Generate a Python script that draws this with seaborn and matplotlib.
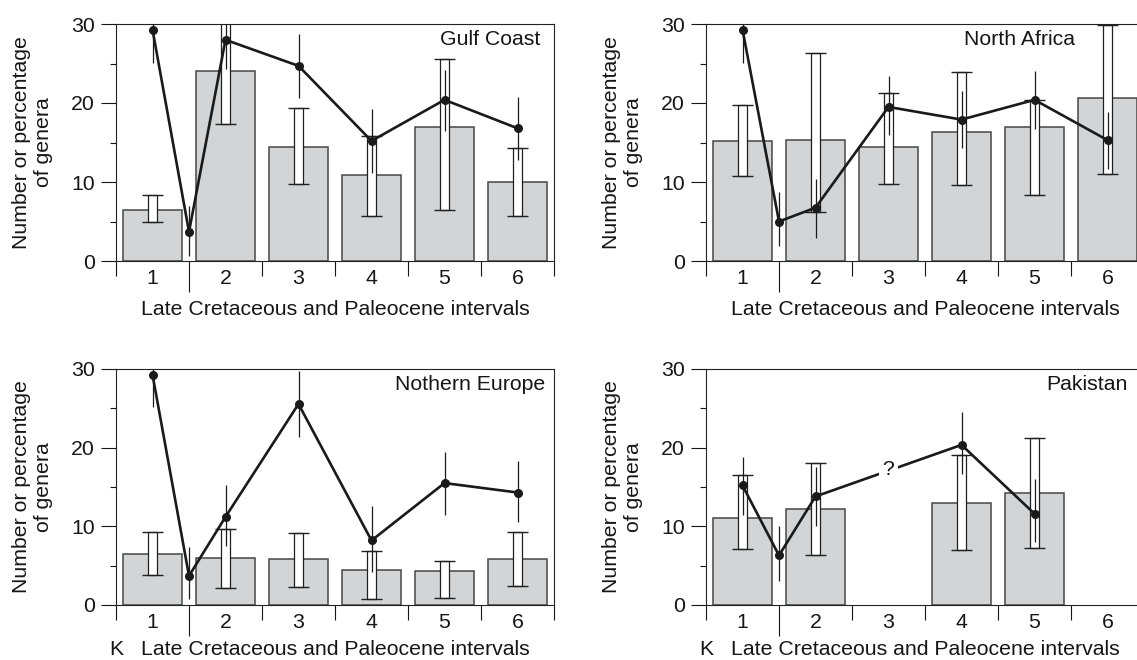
import numpy as np
import pandas as pd
import matplotlib
matplotlib.use("Agg")
import matplotlib.pyplot as plt
import seaborn as sns

# ---------------- data ----------------
intervals = [1, 2, 3, 4, 5, 6]
interval_labels = ["1", "2", "3", "4", "5", "6"]
line_x = [1, 1.5, 2, 3, 4, 5, 6]          # 1.5 = K/Pg boundary sample
bin_edges = [0.5, 1.5, 2.5, 3.5, 4.5, 5.5, 6.5]
boundary_x = 1.5
nan = np.nan

regions = ["Gulf Coast", "North Africa", "Nothern Europe", "Pakistan"]

gc_bar = [6.5, 24.0, 14.4, 10.9, 17.0, 10.0]
gc_bar_lo = [5.0, 17.3, 9.7, 5.7, 6.5, 5.7]
gc_bar_hi = [8.3, 31.5, 19.4, 15.8, 25.6, 14.3]
gc_pt = [29.3, 3.7, 28.0, 24.7, 15.2, 20.4, 16.8]
gc_pt_lo = [25.1, 0.6, 24.3, 20.6, 11.2, 16.4, 12.8]
gc_pt_hi = [33.5, 7.0, 31.7, 28.7, 19.3, 24.2, 20.8]

na_bar = [15.25, 15.3, 14.45, 16.3, 16.95, 20.6]
na_bar_lo = [10.7, 6.25, 9.7, 9.6, 8.4, 11.0]
na_bar_hi = [19.8, 26.3, 21.3, 23.95, 20.4, 29.9]
na_pt = [29.3, 5.0, 6.75, 19.5, 17.9, 20.4, 15.3]
na_pt_lo = [25.1, 1.9, 2.9, 16.0, 14.3, 16.7, 11.7]
na_pt_hi = [33.5, 8.75, 10.4, 23.4, 21.5, 24.0, 18.9]

ne_bar = [6.5, 6.0, 5.9, 4.45, 4.3, 5.8]
ne_bar_lo = [3.85, 2.1, 2.25, 0.75, 0.95, 2.4]
ne_bar_hi = [9.3, 9.6, 9.1, 6.9, 5.6, 9.3]
ne_pt = [29.3, 3.7, 11.2, 25.55, 8.2, 15.5, 14.3]
ne_pt_lo = [25.2, 0.75, 7.45, 21.4, 4.15, 11.5, 10.55]
ne_pt_hi = [33.5, 7.4, 15.2, 29.7, 12.6, 19.45, 18.35]

pk_bar = [11.0, 12.2, nan, 13.0, 14.2, nan]
pk_bar_lo = [7.1, 6.4, nan, 7.0, 7.3, nan]
pk_bar_hi = [16.5, 18.05, nan, 19.05, 21.2, nan]
pk_pt = [15.2, 6.3, 13.8, nan, 20.35, 11.6, nan]
pk_pt_lo = [11.5, 3.0, 10.0, nan, 16.6, 8.0, nan]
pk_pt_hi = [18.8, 10.0, 17.5, nan, 24.5, 16.0, nan]

# annotation "?" on the Pakistan gap (interval 3)
pk_question = (3, 17.2)

# title anchor (right edge, data x) per panel
title_x = [6.32, 5.55, 6.38, 6.27]
title_y = 28.0

# ---------------- style ----------------
sns.set_style("ticks")
plt.rcParams["font.family"] = ["Liberation Sans", "DejaVu Sans"]
TXT = "#161616"
plt.rcParams["text.color"] = TXT
plt.rcParams["axes.labelcolor"] = TXT
plt.rcParams["xtick.color"] = TXT
plt.rcParams["ytick.color"] = TXT
plt.rcParams["axes.edgecolor"] = "#222222"
plt.rcParams["axes.linewidth"] = 0.8

BAR_FILL = "#d3d4d6"
BAR_EDGE = "#474747"
LINE_C = "#1a1a1a"
FS = 15.3

fig = plt.figure(figsize=(11.37, 6.6), dpi=100)
W, H = 1137, 660
ax_w = 438 / W
positions = [
    (116 / W, (H - 261) / H, ax_w, 237 / H),
    (706 / W, (H - 261) / H, ax_w, 237 / H),
    (116 / W, (H - 605) / H, ax_w, 236 / H),
    (706 / W, (H - 605) / H, ax_w, 236 / H),
]

panels = [
    (gc_bar, gc_bar_lo, gc_bar_hi, gc_pt, gc_pt_lo, gc_pt_hi),
    (na_bar, na_bar_lo, na_bar_hi, na_pt, na_pt_lo, na_pt_hi),
    (ne_bar, ne_bar_lo, ne_bar_hi, ne_pt, ne_pt_lo, ne_pt_hi),
    (pk_bar, pk_bar_lo, pk_bar_hi, pk_pt, pk_pt_lo, pk_pt_hi),
]

for i, (pos, data) in enumerate(zip(positions, panels)):
    bar, blo, bhi, pt, plo, phi = [np.array(v, dtype=float) for v in data]
    ax = fig.add_axes(pos)

    bdf = pd.DataFrame({"interval": intervals, "value": bar}).dropna()
    sns.barplot(data=bdf, x="interval", y="value", native_scale=True,
                width=0.82, color=BAR_FILL, saturation=1, edgecolor=BAR_EDGE,
                linewidth=1.1, errorbar=None, ax=ax, zorder=1)

    # double-line error bars of the bars (white slot with caps)
    xi = np.array(intervals, dtype=float)
    m = ~np.isnan(blo)
    ax.bar(xi[m], (bhi - blo)[m], bottom=blo[m], width=0.11, color="white",
           edgecolor="#202020", linewidth=0.9, zorder=2.5)
    ax.hlines(np.r_[blo[m], bhi[m]], np.r_[xi[m], xi[m]] - 0.145,
              np.r_[xi[m], xi[m]] + 0.145, color="#202020", lw=1.0, zorder=2.6)

    # line with markers
    ldf = pd.DataFrame({"x": line_x, "y": pt}).dropna()
    sns.lineplot(data=ldf, x="x", y="y", estimator=None, sort=True,
                 color=LINE_C, linewidth=1.9, marker="o", markersize=6.5,
                 markeredgewidth=0, ax=ax, zorder=3)
    lx = np.array(line_x, dtype=float)
    mm = ~np.isnan(plo)
    ax.vlines(lx[mm], plo[mm], phi[mm], color=LINE_C, lw=0.9, zorder=3.5)

    if i == 3:
        ax.text(pk_question[0], pk_question[1], "?", ha="center", va="center",
                fontsize=FS, zorder=5,
                bbox=dict(boxstyle="square,pad=0.15", fc="white", ec="none"))

    ax.text(title_x[i], title_y, regions[i], ha="right", va="center",
            fontsize=FS, zorder=6)

    # axes
    ax.set_xlim(0.5, 6.5)
    ax.set_ylim(0, 30)
    ax.set_yticks([0, 10, 20, 30])
    ax.set_yticks([5, 15, 25], minor=True)
    ax.set_yticklabels(["0", "10", "20", "30"])
    ax.tick_params(axis="y", which="major", direction="out", length=10.8,
                   width=0.8, pad=4.3, labelsize=FS, left=True, right=False)
    ax.tick_params(axis="y", which="minor", direction="out", length=4.5,
                   width=0.8, left=True, right=False)

    ax.set_xticks(bin_edges)
    ax.set_xticklabels([""] * len(bin_edges))
    ax.set_xticks(intervals, minor=True)
    ax.set_xticklabels(interval_labels, minor=True)
    ax.tick_params(axis="x", which="major", direction="out", length=10.8,
                   width=0.8, bottom=True, top=False)
    ax.tick_params(axis="x", which="minor", length=0, pad=5.5,
                   labelsize=FS, bottom=True, top=False)

    for s in ["top", "right", "left", "bottom"]:
        ax.spines[s].set_visible(True)
        ax.spines[s].set_linewidth(0.8)

    ax.set_ylabel("Number or percentage\nof genera", fontsize=FS,
                  linespacing=1.2)
    ax.yaxis.set_label_coords(-0.19, 0.5)
    ax.yaxis.label.set_va("center")

    ax.set_xlabel("Late Cretaceous and Paleocene intervals", fontsize=FS)
    ylab = -0.203 if i < 2 else -0.19
    ax.xaxis.set_label_coords(0.5, ylab)
    ax.xaxis.label.set_va("center")

    if i >= 2:
        ax.text(bin_edges[0], ylab, "K", transform=ax.get_xaxis_transform(),
                ha="center", va="center", fontsize=FS)

    # long tick marking the K/Pg boundary
    for t, loc in zip(ax.xaxis.get_major_ticks(), bin_edges):
        if loc == boundary_x:
            t.tick1line.set_markersize(22)

fig.savefig("out.png", dpi=100)
